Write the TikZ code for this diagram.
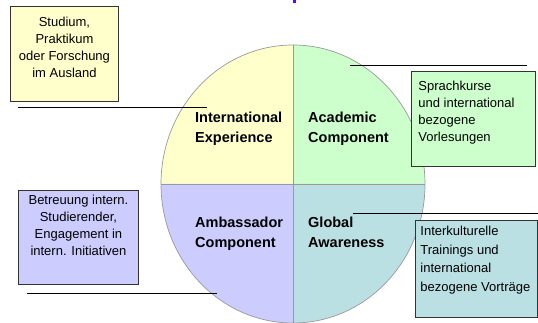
\documentclass[tikz,border=0pt]{standalone}
\usepackage{fontspec}
\setmainfont{Liberation Sans}
\usetikzlibrary{positioning}

\definecolor{gelb}{HTML}{FFFFCC}
\definecolor{gruen}{HTML}{CCFFCC}
\definecolor{lila}{HTML}{CCCCFF}
\definecolor{tuerkis}{HTML}{BBE0E3}
\definecolor{titel}{HTML}{6600FF}

% Kasten: Breite, Hoehe, Abstand oben, Ausrichtung, Text
\newcommand{\kasten}[5]{\parbox[c][#2][t]{#1}{\vspace*{#3}#4#5}}

\begin{document}
\begin{tikzpicture}[
            x=1pt,y=1pt,
            info/.style={
                    draw=black!80,
                    line width=0.9pt,
                    inner sep=0pt,
                    anchor=north west,
                    font=\fontsize{13}{16.8}\selectfont
                },
            teil/.style={
                    anchor=north west,
                    inner sep=0pt,
                    align=left,
                    font=\fontsize{14.5}{20}\selectfont\bfseries
                },
            rand/.style={draw=black!40,line width=0.7pt},
            leader/.style={draw=black,line width=0.8pt}
        ]
        \useasboundingbox (0,0) rectangle (538,323);
        \fill[titel] (293,323) rectangle (296,320);

        \coordinate (mitte) at (293,139);
        \fill[gelb] (mitte) -- ++(-132,0) arc[start angle=180,end angle=90,x radius=132,y radius=139] -- cycle;
        \fill[gruen] (mitte) -- ++(0,139) arc[start angle=90,end angle=0,x radius=132,y radius=139] -- cycle;
        \fill[tuerkis] (mitte) -- ++(132,0) arc[start angle=0,end angle=-90,x radius=132,y radius=139] -- cycle;
        \fill[lila] (mitte) -- ++(0,-139) arc[start angle=270,end angle=180,x radius=132,y radius=139] -- cycle;
        \draw[rand] (mitte) ellipse[x radius=132,y radius=139];
        \draw[rand] (mitte) ++(-132,0) -- ++(264,0);
        \draw[rand] (mitte) ++(0,-139) -- ++(0,278);

        \node[teil] (ie) at (195,211) {International\\Experience};
        \node[teil] (ac) at (308,211) {Academic\\Component};
        \node[teil] (ab) at (195,106) {Ambassador\\Component};
        \node[teil] (ga) at (308,106) {Global\\Awareness};

        \node[info,fill=gelb] (stud) at (10,317)
        {\kasten{108pt}{95pt}{11pt}{\centering}{Studium,\\Praktikum\\oder Forschung\\im Ausland}};
        \node[info,fill=gruen] (sprach) at (411,252)
        {\kasten{124pt}{95pt}{10pt}{\raggedright\hspace*{7pt}}{Sprachkurse\\\hspace*{7pt}und international\\\hspace*{7pt}bezogene\\\hspace*{7pt}Vorlesungen}};
        \node[info,fill=lila] (betr) at (18,133)
        {\kasten{120pt}{94pt}{5pt}{\centering}{Betreuung intern.\\Studierender,\\Engagement in\\intern. Initiativen}};
        \node[info,fill=tuerkis,font=\fontsize{13}{18.5}\selectfont] (train) at (415,103)
        {\kasten{122pt}{97pt}{6pt}{\raggedright\hspace*{5pt}}{Interkulturelle\\\hspace*{5pt}Trainings und\\\hspace*{5pt}international\\\hspace*{5pt}bezogene Vorträge}};

        \coordinate (ie-a) at (18,216);
        \coordinate (ie-b) at (207,216);
        \coordinate (ac-a) at (350,258);
        \coordinate (ac-b) at (527,258);
        \coordinate (ab-a) at (27,30);
        \coordinate (ab-b) at (217,30);
        \coordinate (ga-a) at (353,110);
        \coordinate (ga-b) at (538,110);
        \draw[leader] (ie-a) -- (ie-b);
        \draw[leader] (ac-a) -- (ac-b);
        \draw[leader] (ab-a) -- (ab-b);
        \draw[leader] (ga-a) -- (ga-b);
    \end{tikzpicture}
\end{document}
